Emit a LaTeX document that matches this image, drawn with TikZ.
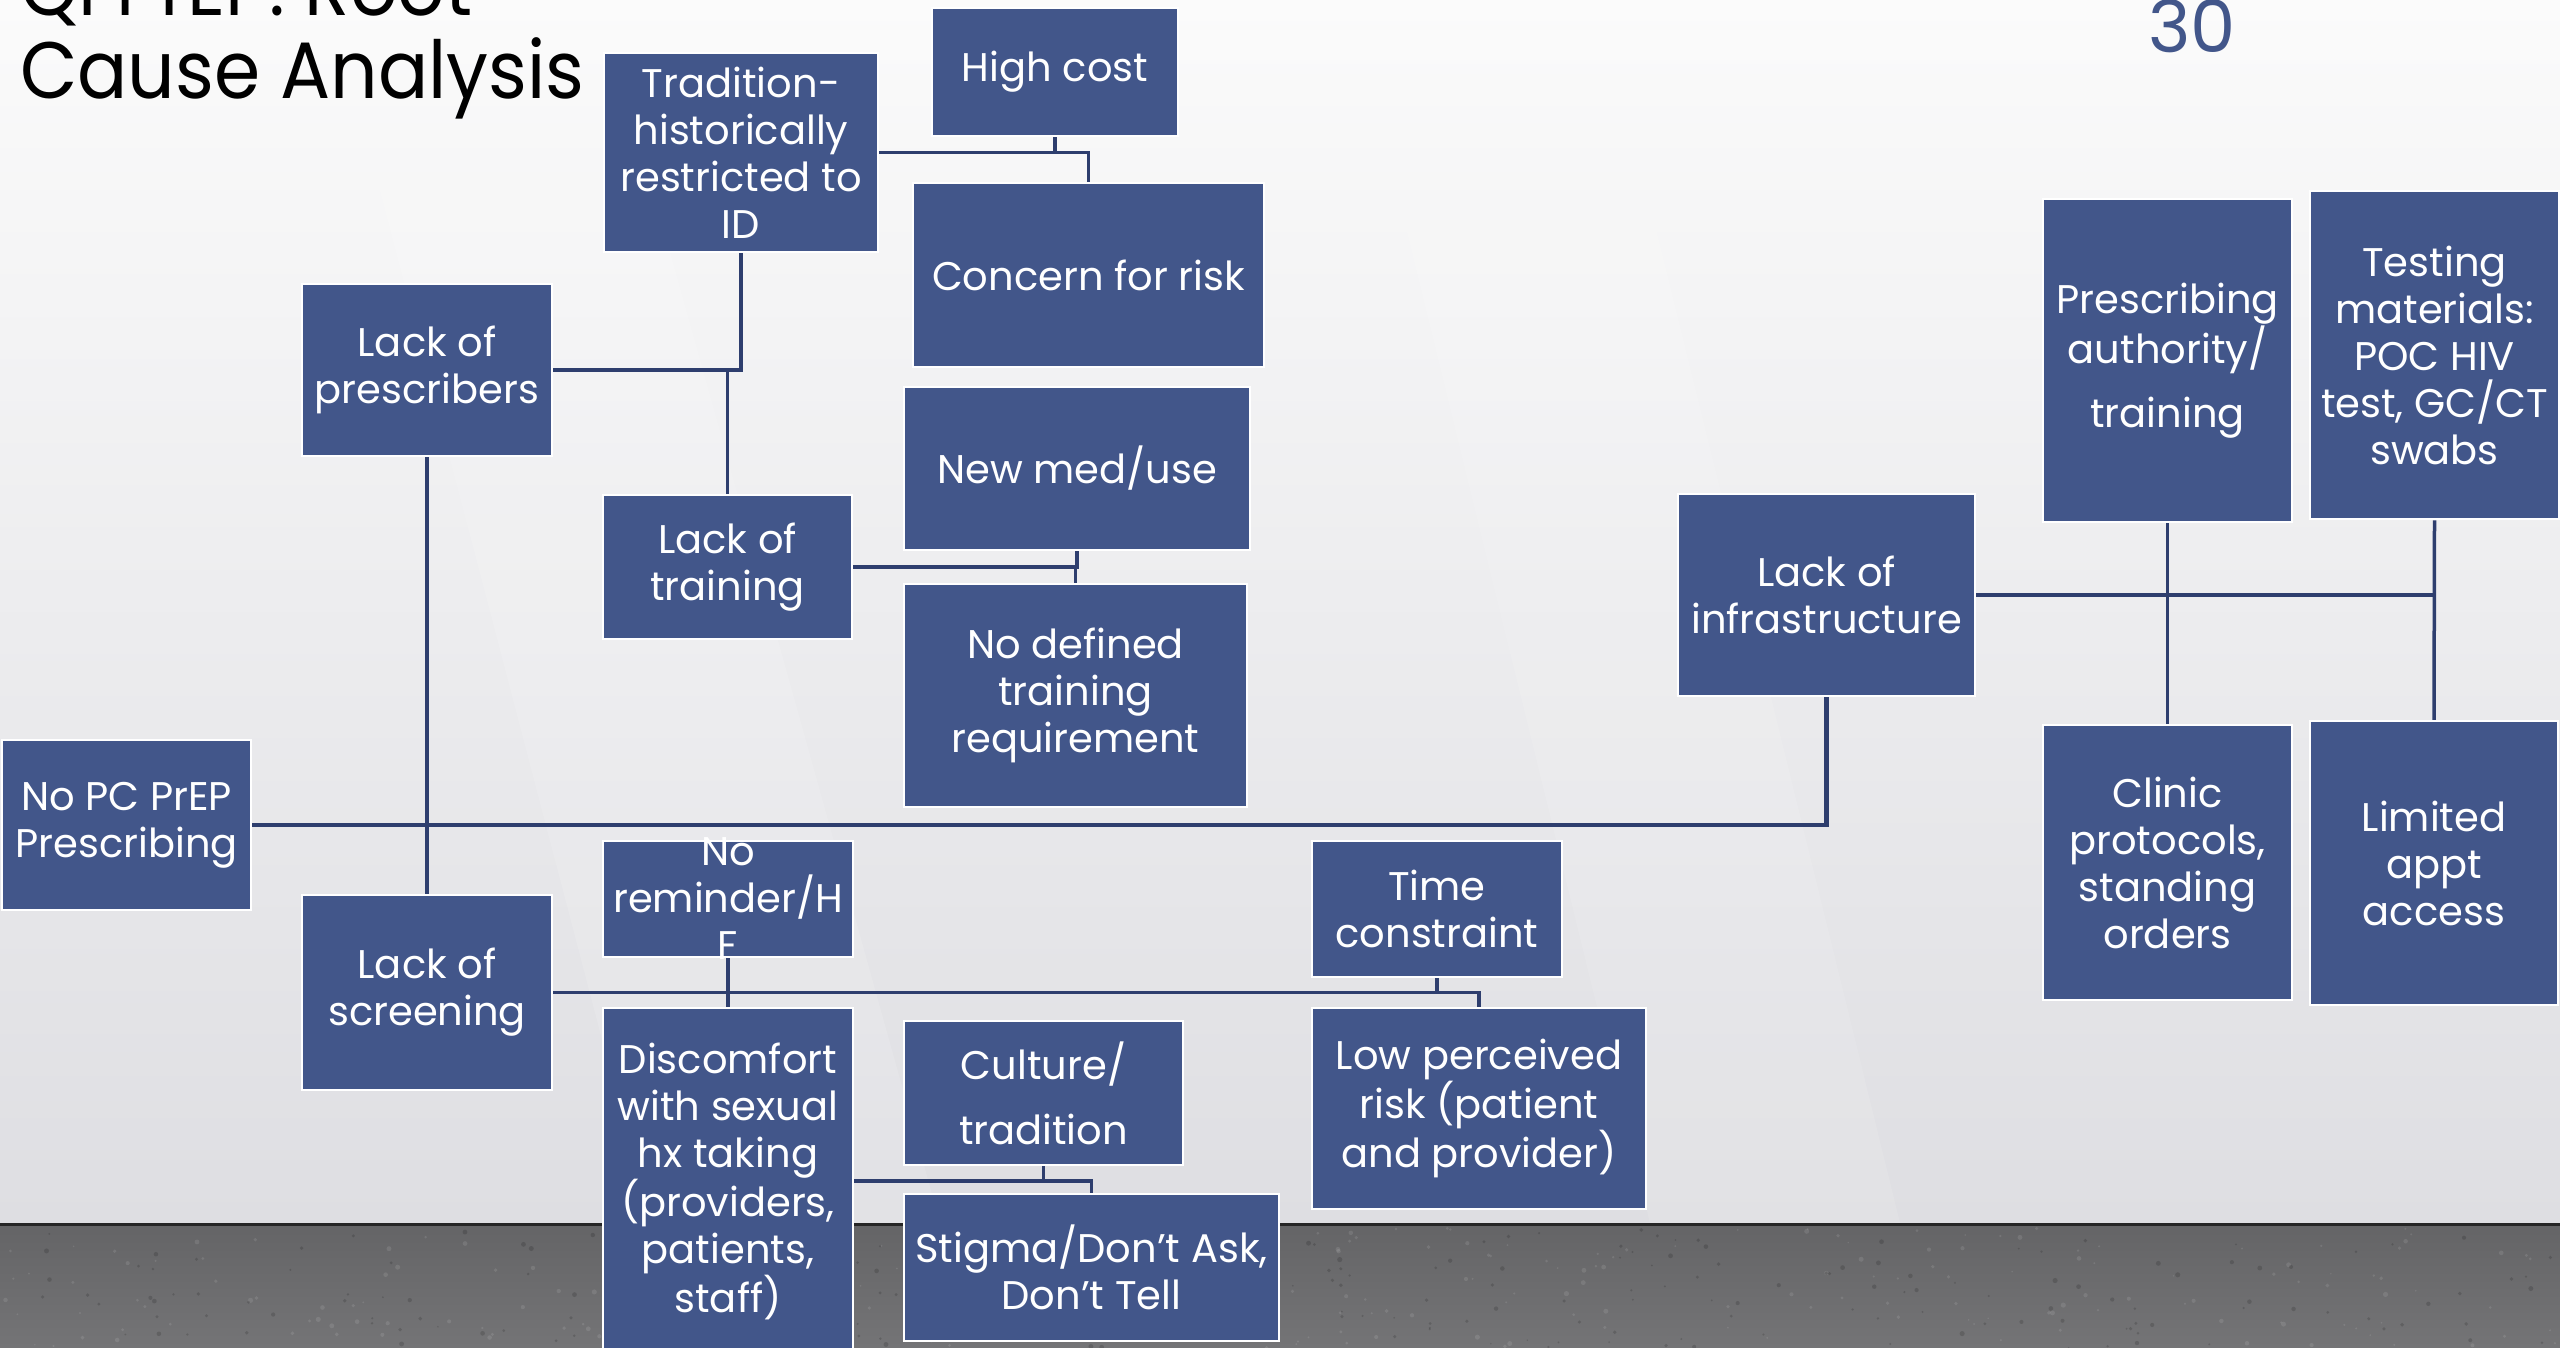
\documentclass[tikz,border=0pt]{standalone}
\usepackage{fontspec}
\setmainfont{Poppins}
\usetikzlibrary{calc}
\definecolor{boxblue}{RGB}{66,86,138}
\definecolor{linenavy}{RGB}{46,62,110}
\definecolor{wallTop}{RGB}{251,251,251}
\definecolor{wallBot}{RGB}{222,222,226}
\definecolor{floorA}{RGB}{116,116,118}
\definecolor{floorB}{RGB}{100,100,102}
\tikzset{
  bx/.style={draw=white, line width=2.5pt, fill=boxblue, inner sep=0pt},
  bt/.style={text=white, align=center, inner sep=0pt, font=\fontsize{40}{47}\selectfont},
  cn/.style={draw=linenavy, line width=3.5pt},
}
\newcommand\mkbox[6]{%
  \node[bx, minimum width={#4-#2}, minimum height={#5-#3}] (#1) at ({(#2+#4)/2},{(#3+#5)/2}) {};
  \node[bt] (#1t) at (#1.center) {#6};}
\begin{document}
\begin{tikzpicture}[x=1pt,y=-1pt]
\useasboundingbox (0,0) rectangle (2560,1347);
\clip (0,0) rectangle (2560,1347);
% wall
\shade[top color=wallTop, bottom color=wallBot] (0,0) rectangle (2560,1223);
\fill[white, opacity=0.12] (330,0) -- (600,0) -- (940,1223) -- (650,1223) -- cycle;
\fill[white, opacity=0.10] (1350,0) -- (1600,0) -- (1900,1223) -- (1650,1223) -- cycle;
% floor
\shade[top color=floorB, bottom color=floorA] (0,1223) rectangle (2560,1347);
\pgfmathsetseed{7}
\foreach \i in {1,...,500} {
  \pgfmathsetmacro\rx{rnd*2560}
  \pgfmathsetmacro\ry{1228+rnd*120}
  \pgfmathsetmacro\rs{0.8+rnd*1.8}
  \pgfmathsetmacro\rc{rnd}
  \ifdim\rc pt<0.5pt
    \fill[black, opacity=0.15] (\rx,\ry) circle (\rs);
  \else
    \fill[white, opacity=0.10] (\rx,\ry) circle (\rs);
  \fi
}
\draw[black!85, line width=3pt] (0,1224) -- (2560,1224);
% title and page number
\node[anchor=base west, inner sep=0pt, font=\fontsize{80}{83}\selectfont] (title1) at (20,15) {\scalebox{0.93}[1]{QI PrEP: Root}};
\node[anchor=base west, inner sep=0pt, font=\fontsize{80}{83}\selectfont] (title2) at (20,98) {\scalebox{0.93}[1]{Cause Analysis}};
\node[anchor=base, inner sep=0pt, text=boxblue, font=\fontsize{72}{72}\selectfont] (pagenum) at (2192,52) {30};
% boxes
\mkbox{trad}{604}{53}{878}{252}{Tradition-\\historically\\restricted to\\ID}
\mkbox{high}{932}{8}{1178}{136}{High cost}
\mkbox{concern}{913}{183}{1264}{367}{Concern for risk}
\mkbox{presc}{302}{284}{552}{456}{Lack of\\prescribers}
\mkbox{newmed}{904}{387}{1250}{550}{New med/use}
\mkbox{train}{603}{495}{852}{639}{Lack of\\training}
\mkbox{nodef}{904}{584}{1247}{807}{No defined\\training\\requirement}
\mkbox{infra}{1678}{494}{1975}{696}{Lack of\\infrastructure}
\mkbox{pauth}{2043}{199}{2292}{522}{Prescribing\\authority/\\[17pt]training}
\mkbox{testing}{2310}{191}{2559}{519}{Testing\\materials:\\POC HIV\\test, GC/CT\\swabs}
\mkbox{clinic}{2043}{725}{2292}{1000}{Clinic\\protocols,\\standing\\orders}
\mkbox{limited}{2310}{721}{2558}{1005}{Limited\\appt\\access}
\mkbox{nopc}{2}{740}{251}{910}{No PC PrEP\\Prescribing}
\mkbox{remind}{603}{841}{853}{957}{No\\reminder/H\\F}
\mkbox{timec}{1312}{841}{1562}{977}{Time\\constraint}
\mkbox{screen}{302}{895}{552}{1090}{Lack of\\screening}
\mkbox{discomf}{603}{1008}{853}{1354}{Discomfort\\with sexual\\hx taking\\(providers,\\patients,\\staff)}
\mkbox{culture}{904}{1021}{1183}{1165}{Culture/\\[18pt]tradition}
\mkbox{stigma}{904}{1194}{1279}{1341}{Stigma/Don’t Ask,\\Don’t Tell}
\mkbox{lowrisk}{1312}{1008}{1646}{1209}{Low perceived\\risk (patient\\and provider)}
% connectors
\draw[cn, line width=4.5pt] (nopc.east) -- (nopc.east -| infra.south) -- (infra.south);
\draw[cn] (presc.south) -- (screen.north);
\draw[cn] (trad.south) -- (trad.south |- presc.east) -- (presc.east);
\draw[cn] (train.north |- presc.east) -- (train.north);
\draw[cn] (trad.east) -- (trad.east -| concern.north) -- (concern.north);
\draw[cn] (high.south) -- (high.south |- trad.east);
\draw[cn] (train.east) -- (train.east -| newmed.south) -- (newmed.south);
\draw[cn] (train.east -| nodef.north) -- (nodef.north);
\draw[cn] (screen.east) -- (screen.east -| lowrisk.north) -- (lowrisk.north);
\draw[cn] (timec.south) -- (timec.south |- screen.east);
\draw[cn] (remind.south) -- (discomf.north);
\draw[cn] (discomf.east) -- (discomf.east -| stigma.north) -- (stigma.north);
\draw[cn] (culture.south) -- (culture.south |- discomf.east);
\draw[cn] (infra.east) -- (infra.east -| testing.south);
\draw[cn] (testing.south) -- (limited.north);
\draw[cn] (pauth.south) -- (clinic.north);
\end{tikzpicture}
\end{document}
